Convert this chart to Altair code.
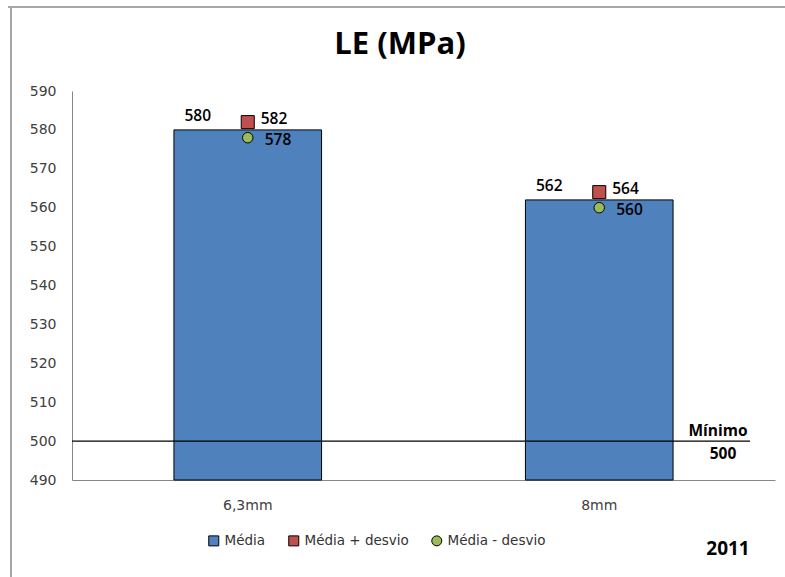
import altair as alt
import pandas as pd

# Valores do gráfico
categorias = ["6,3mm", "8mm"]
media = [580, 562]
media_mais_desvio = [582, 564]
media_menos_desvio = [578, 560]
minimo = 500
series = ["Média", "Média + desvio", "Média - desvio"]
cores = ["#4F81BD", "#C0504D", "#9BBB59"]
formas = ["square", "square", "circle"]
eixo_y = [490, 500, 510, 520, 530, 540, 550, 560, 570, 580, 590]
titulo = "LE (MPa)"
ano = "2011"

df_media = pd.DataFrame({"cat": categorias, "valor": media, "serie": series[0]})
df_mais = pd.DataFrame({"cat": categorias, "valor": media_mais_desvio, "serie": series[1]})
df_menos = pd.DataFrame({"cat": categorias, "valor": media_menos_desvio, "serie": series[2]})
df_min = pd.DataFrame({"valor": [minimo], "rotulo": ["Mínimo"]})
df_titulo = pd.DataFrame({"t": [titulo]})
df_ano = pd.DataFrame({"t": [ano]})

W, H = 703, 389
TXT = "DejaVu Sans"
NUM = "Open Sans"

x = alt.X(
    "cat:N",
    sort=categorias,
    scale=alt.Scale(paddingInner=0.58, paddingOuter=0.29),
    axis=alt.Axis(
        title=None, labelAngle=0, ticks=False, labelPadding=18,
        labelFont=TXT, labelFontSize=14, labelColor="#404040",
        domainColor="#868686", domainWidth=1,
    ),
)
y = alt.Y(
    "valor:Q",
    scale=alt.Scale(domain=[490, 590], zero=False, nice=False),
    axis=alt.Axis(
        title=None, values=eixo_y, grid=False, ticks=False, labelPadding=16,
        labelOverlap=False, labelFont=TXT, labelFontSize=14, labelColor="#404040",
        domainColor="#868686", domainWidth=1,
    ),
)
legenda = alt.Legend(
    title=None, orient="none", legendX=135, legendY=443, direction="horizontal",
    symbolSize=100, symbolStrokeColor="black", symbolStrokeWidth=1,
    labelFont=TXT, labelFontSize=13.5, labelColor="#333333",
    columnPadding=20, labelOffset=4,
)
cor = alt.Color("serie:N", scale=alt.Scale(domain=series, range=cores), legend=legenda)
forma = alt.Shape("serie:N", scale=alt.Scale(domain=series, range=formas), legend=legenda)

barras = alt.Chart(df_media).mark_bar(stroke="black", strokeWidth=1).encode(
    x=x, y=y, y2=alt.datum(490), color=cor
)
rot_media = alt.Chart(df_media).mark_text(
    font=NUM, fontSize=15.5, fontWeight=600, dx=-50, dy=-14, align="center",
    baseline="middle", color="black"
).encode(x=x, y=y, text="valor:Q")

pontos_mais = alt.Chart(df_mais).mark_point(
    filled=True, size=170, stroke="black", strokeWidth=1, opacity=1
).encode(x=x, y=y, color=cor, shape=forma)
rot_mais = alt.Chart(df_mais).mark_text(
    font=NUM, fontSize=15.5, fontWeight=600, dx=13, dy=-3, align="left",
    baseline="middle", color="black"
).encode(x=x, y=y, text="valor:Q")

pontos_menos = alt.Chart(df_menos).mark_point(
    filled=True, size=110, stroke="black", strokeWidth=1, opacity=1
).encode(x=x, y=y, color=cor, shape=forma)
rot_menos = alt.Chart(df_menos).mark_text(
    font=NUM, fontSize=15.5, fontWeight=600, dx=17, dy=2, align="left",
    baseline="middle", color="black"
).encode(x=x, y=y, text="valor:Q")

# Linha do valor mínimo e seus rótulos
linha_min = alt.Chart(df_min).mark_rule(color="black", strokeWidth=1.3).encode(
    y=y, x=alt.value(0), x2=alt.value(678)
)
rot_min = alt.Chart(df_min).mark_text(
    font=NUM, fontSize=15.5, fontWeight="bold", dy=-10, align="center",
    baseline="middle", color="black"
).encode(y=y, x=alt.value(646), text="rotulo:N")
rot_min_val = alt.Chart(df_min).mark_text(
    font=NUM, fontSize=15.5, fontWeight="bold", dy=13, align="center",
    baseline="middle", color="black"
).encode(y=y, x=alt.value(651), text="valor:Q")

# Título, ano e moldura
tit = alt.Chart(df_titulo).mark_text(
    font=NUM, fontSize=31, fontWeight="bold", align="center", baseline="middle", color="black"
).encode(x=alt.value(328), y=alt.value(-46), text="t:N")
rot_ano = alt.Chart(df_ano).mark_text(
    font=NUM, fontSize=19, fontWeight="bold", align="center", baseline="middle", color="black"
).encode(x=alt.value(656), y=alt.value(458), text="t:N")
borda_esq = alt.Chart(df_titulo).mark_rule(color="#A6A6A6", strokeWidth=2).encode(
    x=alt.value(-61), y=alt.value(-84), y2=alt.value(486)
)
borda_topo = alt.Chart(df_titulo).mark_rule(color="#A6A6A6", strokeWidth=2).encode(
    y=alt.value(-84), x=alt.value(-64), x2=alt.value(713)
)

chart = alt.layer(
    borda_esq, borda_topo, barras, linha_min, rot_min, rot_min_val,
    pontos_mais, pontos_menos, rot_media, rot_mais, rot_menos, tit, rot_ano,
).properties(
    width=W, height=H,
    padding={"left": 72, "top": 91, "right": 10, "bottom": 97},
    autosize=alt.AutoSizeParams(type="none"),
).configure_view(stroke=None).configure_axisY(labelOverlap=False)

chart.save("out.html", embed_options={"renderer": "svg", "actions": False})
